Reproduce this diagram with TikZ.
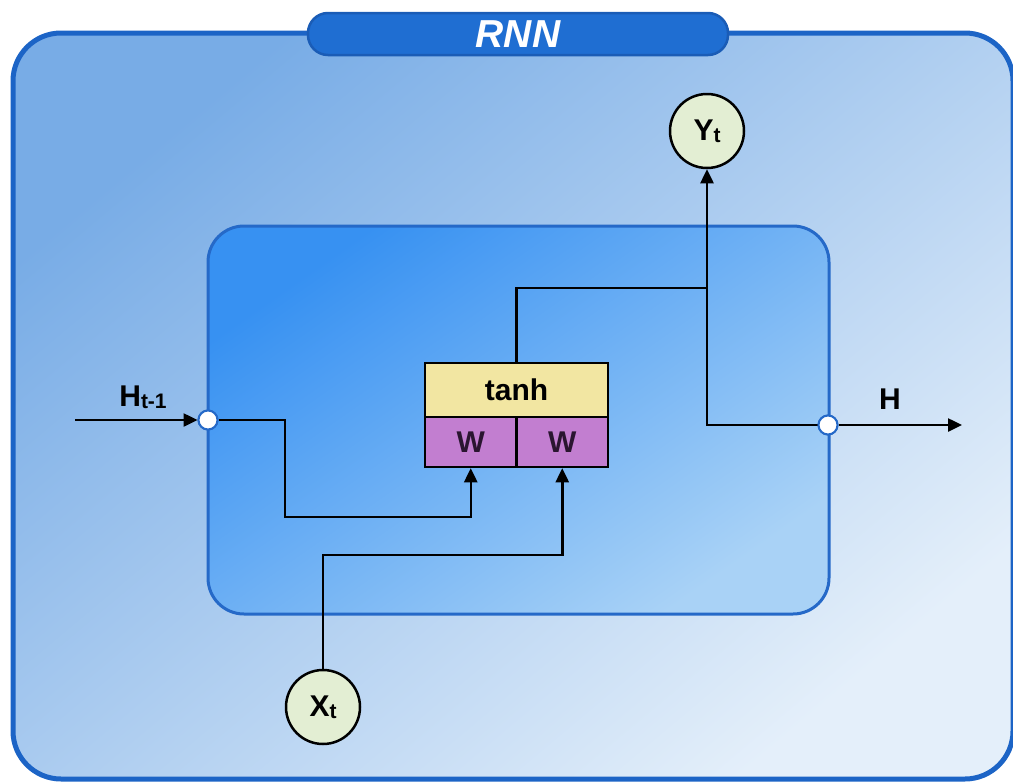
\documentclass[tikz,border=0pt]{standalone}
\usepackage{fontspec}
\setmainfont{Liberation Sans}
\usetikzlibrary{arrows.meta,calc}
\definecolor{outerline}{HTML}{1C64C6}
\definecolor{outerA}{HTML}{78ACE6}
\definecolor{outerB}{HTML}{E4EFFA}
\definecolor{innerA}{HTML}{3791F2}
\definecolor{innerB}{HTML}{A9D2F6}
\definecolor{innerline}{HTML}{2569C8}
\definecolor{pill}{HTML}{1F6ED2}
\definecolor{pillline}{HTML}{1A5CB6}
\definecolor{tanhfill}{HTML}{F2E6A2}
\definecolor{wfill}{HTML}{C27ED0}
\definecolor{wtext}{HTML}{2A1530}
\definecolor{circfill}{HTML}{E3EED3}
\begin{document}
\begin{tikzpicture}[x=1pt,y=-1pt,
  conn/.style={line width=2.5pt,draw=black},
  arr/.style={conn,-{Triangle[length=14pt,width=13pt]}},
  cellbox/.style={draw=black,line width=2.5pt,inner sep=0pt,font=\bfseries\fontsize{30}{32}\selectfont},
  io/.style={circle,draw=black,line width=2.5pt,fill=circfill,minimum size=74pt,inner sep=0pt,font=\bfseries\fontsize{30}{32}\selectfont},
  port/.style={circle,draw=innerline,line width=2pt,fill=white,minimum size=19pt,inner sep=0pt},
  lab/.style={font=\bfseries\fontsize{30}{32}\selectfont}]
\useasboundingbox (0,0) rectangle (1013,782);
% outer box
\path[draw=outerline,line width=5pt,rounded corners=48pt,top color=outerA,bottom color=outerB,shading angle=40]
  (13,33) rectangle (1013,779);
% title pill
\node[draw=pillline,line width=2.5pt,fill=pill,rounded corners=20pt,minimum width=420pt,minimum height=42pt,inner sep=0pt,
  font=\bfseries\itshape\fontsize{39}{40}\selectfont,text=white] (title) at (518,34) {RNN};
% inner box
\path[draw=innerline,line width=3pt,rounded corners=36pt,top color=innerA,bottom color=innerB,shading angle=35]
  (208,226) rectangle (829,614);
% cell
\node[cellbox,fill=tanhfill,minimum width=183pt,minimum height=54pt] (tanh) at (516.5,390) {tanh};
\node[cellbox,fill=wfill,minimum width=91.5pt,minimum height=50pt,text=wtext] (w1) at (470.75,442) {W};
\node[cellbox,fill=wfill,minimum width=91.5pt,minimum height=50pt,text=wtext] (w2) at (562.25,442) {W};
% io nodes
\node[io] (y) at (707,131) {Y\raisebox{-2pt}{\fontsize{21}{22}\selectfont t}};
\node[io] (x) at (323,707) {X\raisebox{-2pt}{\fontsize{21}{22}\selectfont t}};
% ports
\node[port] (hin) at (208,420) {};
\node[port] (hout) at (828,425) {};
\coordinate (src) at (75,420);
\coordinate (dst) at (962,425);
\coordinate (j) at (707,288);
\coordinate (jd) at (707,425);
% labels
\node[lab,anchor=base] (hinl) at (143,406) {H\raisebox{-2pt}{\fontsize{21}{22}\selectfont t-1}};
\node[lab,anchor=base] (houtl) at (890,409) {H};
% connectors
\draw[arr] (src) -- (hin.west);
\draw[arr] (hin.east) -- (285,420) -- (285,517) -| (w1.south);
\draw[arr] (x.north) -- (323,555) -| (w2.south);
\draw[conn] (tanh.north) |- (j);
\draw[arr] (hout.west) -- (jd) -- (y.south);
\draw[arr] (hout.east) -- (dst);
\node[port] at (hin) {};
\node[port] at (hout) {};
\end{tikzpicture}
\end{document}
